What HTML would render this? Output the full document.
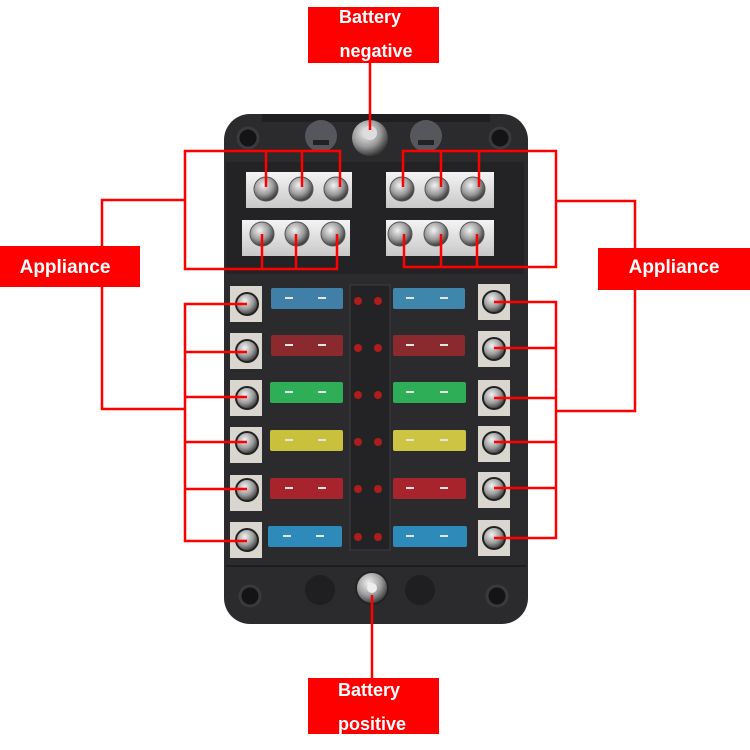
<!DOCTYPE html>
<html><head><meta charset="utf-8"><style>
html,body{margin:0;padding:0;background:#fff;width:750px;height:750px;overflow:hidden}
svg{display:block}
text{font-family:"Liberation Sans",sans-serif;font-weight:bold;fill:#fff}
</style></head><body>
<svg width="750" height="750" viewBox="0 0 750 750" xmlns="http://www.w3.org/2000/svg">
<defs>
<radialGradient id="scr" cx="40%" cy="35%" r="65%"><stop offset="0" stop-color="#f2f2f2"/><stop offset="0.6" stop-color="#9a9a9a"/><stop offset="1" stop-color="#3a3a3a"/></radialGradient>
<linearGradient id="bar" x1="0" y1="0" x2="0" y2="1"><stop offset="0" stop-color="#f4f4f4"/><stop offset="1" stop-color="#c8c8c8"/></linearGradient>
</defs>
<rect x="224" y="114" width="304" height="510" rx="26" fill="#2b2b2e"/>
<rect x="262" y="114" width="228" height="8" fill="#1f1f22"/>
<circle cx="248" cy="138" r="10" fill="#141416" stroke="#3a3a3e" stroke-width="3"/><circle cx="500" cy="138" r="10" fill="#141416" stroke="#3a3a3e" stroke-width="3"/>
<circle cx="250" cy="596" r="10" fill="#141416" stroke="#3a3a3e" stroke-width="3"/><circle cx="497" cy="596" r="10" fill="#141416" stroke="#3a3a3e" stroke-width="3"/>
<circle cx="321" cy="136" r="16" fill="#55575c"/><rect x="313" y="140" width="16" height="5" fill="#222"/>
<circle cx="426" cy="136" r="16" fill="#55575c"/><rect x="418" y="140" width="16" height="5" fill="#222"/>
<circle cx="370" cy="138" r="18" fill="url(#scr)"/><circle cx="370" cy="133" r="7" fill="#ddd"/>
<rect x="226" y="162" width="298" height="112" fill="#232326"/>
<rect x="246" y="172" width="106" height="36" fill="url(#bar)"/>
<rect x="242" y="220" width="108" height="36" fill="url(#bar)"/>
<rect x="386" y="172" width="108" height="36" fill="url(#bar)"/>
<rect x="386" y="220" width="108" height="36" fill="url(#bar)"/>
<g fill="url(#scr)" stroke="#555" stroke-width="1">
<circle cx="266" cy="189" r="12"/><circle cx="301" cy="189" r="12"/><circle cx="336" cy="189" r="12"/>
<circle cx="262" cy="234" r="12"/><circle cx="297" cy="234" r="12"/><circle cx="333" cy="234" r="12"/>
<circle cx="402" cy="189" r="12"/><circle cx="437" cy="189" r="12"/><circle cx="473" cy="189" r="12"/>
<circle cx="400" cy="234" r="12"/><circle cx="436" cy="234" r="12"/><circle cx="472" cy="234" r="12"/>
</g>
<rect x="350" y="285" width="40" height="265" fill="#232326" stroke="#3c3c40"/>
<g fill="#d9d6cf">
<rect x="230" y="286" width="32" height="36"/><rect x="230" y="333" width="32" height="36"/><rect x="230" y="380" width="32" height="36"/><rect x="230" y="427" width="32" height="36"/><rect x="230" y="475" width="32" height="36"/><rect x="230" y="522" width="32" height="36"/>
<rect x="478" y="284" width="32" height="36"/><rect x="478" y="331" width="32" height="36"/><rect x="478" y="380" width="32" height="36"/><rect x="478" y="426" width="32" height="36"/><rect x="478" y="472" width="32" height="36"/><rect x="478" y="520" width="32" height="36"/>
</g>
<g fill="url(#scr)" stroke="#222" stroke-width="2">
<circle cx="247" cy="304" r="11"/><circle cx="247" cy="351" r="11"/><circle cx="247" cy="398" r="11"/><circle cx="247" cy="443" r="11"/><circle cx="247" cy="490" r="11"/><circle cx="247" cy="540" r="11"/>
<circle cx="494" cy="302" r="11"/><circle cx="494" cy="349" r="11"/><circle cx="494" cy="398" r="11"/><circle cx="494" cy="443" r="11"/><circle cx="494" cy="489" r="11"/><circle cx="494" cy="538" r="11"/>
</g>
<g>
<rect x="271" y="288" width="72" height="21" rx="2" fill="#3f7fa8"/><rect x="393" y="288" width="72" height="21" rx="2" fill="#3f86ad"/>
<rect x="271" y="335" width="72" height="21" rx="2" fill="#8a2a2e"/><rect x="393" y="335" width="72" height="21" rx="2" fill="#8a2a2e"/>
<rect x="270" y="382" width="73" height="21" rx="2" fill="#2fae58"/><rect x="393" y="382" width="73" height="21" rx="2" fill="#2fae58"/>
<rect x="270" y="430" width="73" height="21" rx="2" fill="#c9c03c"/><rect x="393" y="430" width="73" height="21" rx="2" fill="#cdc443"/>
<rect x="270" y="478" width="73" height="21" rx="2" fill="#a8242c"/><rect x="393" y="478" width="73" height="21" rx="2" fill="#a8242c"/>
<rect x="268" y="526" width="74" height="21" rx="2" fill="#2e8ab8"/><rect x="393" y="526" width="74" height="21" rx="2" fill="#2e8ab8"/>
</g>
<g fill="#e4e4e4">
<rect x="285" y="297" width="8" height="2"/><rect x="318" y="297" width="8" height="2"/><rect x="406" y="297" width="8" height="2"/><rect x="440" y="297" width="8" height="2"/>
<rect x="285" y="344" width="8" height="2"/><rect x="318" y="344" width="8" height="2"/><rect x="406" y="344" width="8" height="2"/><rect x="440" y="344" width="8" height="2"/>
<rect x="285" y="391" width="8" height="2"/><rect x="318" y="391" width="8" height="2"/><rect x="406" y="391" width="8" height="2"/><rect x="440" y="391" width="8" height="2"/>
<rect x="285" y="439" width="8" height="2"/><rect x="318" y="439" width="8" height="2"/><rect x="406" y="439" width="8" height="2"/><rect x="440" y="439" width="8" height="2"/>
<rect x="285" y="487" width="8" height="2"/><rect x="318" y="487" width="8" height="2"/><rect x="406" y="487" width="8" height="2"/><rect x="440" y="487" width="8" height="2"/>
<rect x="283" y="535" width="8" height="2"/><rect x="316" y="535" width="8" height="2"/><rect x="406" y="535" width="8" height="2"/><rect x="440" y="535" width="8" height="2"/>
</g>
<g fill="#b01c1c">
<circle cx="358" cy="301" r="4"/><circle cx="378" cy="301" r="4"/>
<circle cx="358" cy="348" r="4"/><circle cx="378" cy="348" r="4"/>
<circle cx="358" cy="395" r="4"/><circle cx="378" cy="395" r="4"/>
<circle cx="358" cy="442" r="4"/><circle cx="378" cy="442" r="4"/>
<circle cx="358" cy="489" r="4"/><circle cx="378" cy="489" r="4"/>
<circle cx="358" cy="537" r="4"/><circle cx="378" cy="537" r="4"/>
</g>
<line x1="226" y1="566" x2="526" y2="566" stroke="#1c1c1f" stroke-width="2"/>
<circle cx="320" cy="590" r="15" fill="#1f1f22"/><circle cx="420" cy="590" r="15" fill="#1f1f22"/>
<circle cx="372" cy="588" r="16" fill="url(#scr)" stroke="#222" stroke-width="2"/><circle cx="372" cy="588" r="5" fill="#eee"/>
<g stroke="#f00" stroke-width="2.5" fill="none">
<line x1="370" y1="63" x2="370" y2="130"/>
<line x1="372" y1="595" x2="372" y2="678"/>
<polyline points="266,187 266,151 185,151 185,269 262,269 262,234"/>
<line x1="302" y1="151" x2="302" y2="187"/><polyline points="266,151 340,151 340,187"/>
<line x1="296" y1="269" x2="296" y2="234"/><polyline points="262,269 337,269 337,234"/>
<polyline points="185,200 102,200 102,409 185,409"/>
<polyline points="403,187 403,151 556,151 556,267 404,267 404,234"/>
<line x1="441" y1="151" x2="441" y2="187"/><line x1="479" y1="151" x2="479" y2="187"/>
<line x1="441" y1="267" x2="441" y2="234"/><line x1="477" y1="267" x2="477" y2="234"/>
<polyline points="556,201 635,201 635,411 556,411"/>
<polyline points="247,304 185,304 185,541 247,541"/>
<line x1="185" y1="352" x2="247" y2="352"/><line x1="185" y1="397" x2="247" y2="397"/><line x1="185" y1="442" x2="247" y2="442"/><line x1="185" y1="489" x2="247" y2="489"/>
<polyline points="494,302 556,302 556,538 494,538"/>
<line x1="556" y1="348" x2="494" y2="348"/><line x1="556" y1="398" x2="494" y2="398"/><line x1="556" y1="442" x2="494" y2="442"/><line x1="556" y1="488" x2="494" y2="488"/>
</g>
<rect x="308" y="7" width="131" height="56" fill="#f00"/>
<text x="370" y="23" font-size="18" text-anchor="middle">Battery</text>
<text x="376" y="57" font-size="18" text-anchor="middle">negative</text>
<rect x="308" y="678" width="131" height="56" fill="#f00"/>
<text x="369" y="696" font-size="18" text-anchor="middle">Battery</text>
<text x="372" y="730" font-size="18" text-anchor="middle">positive</text>
<rect x="0" y="246" width="140" height="41" fill="#f00"/>
<text x="65" y="273" font-size="19" text-anchor="middle">Appliance</text>
<rect x="598" y="248" width="152" height="42" fill="#f00"/>
<text x="674" y="273" font-size="19" text-anchor="middle">Appliance</text>
</svg>
</body></html>
